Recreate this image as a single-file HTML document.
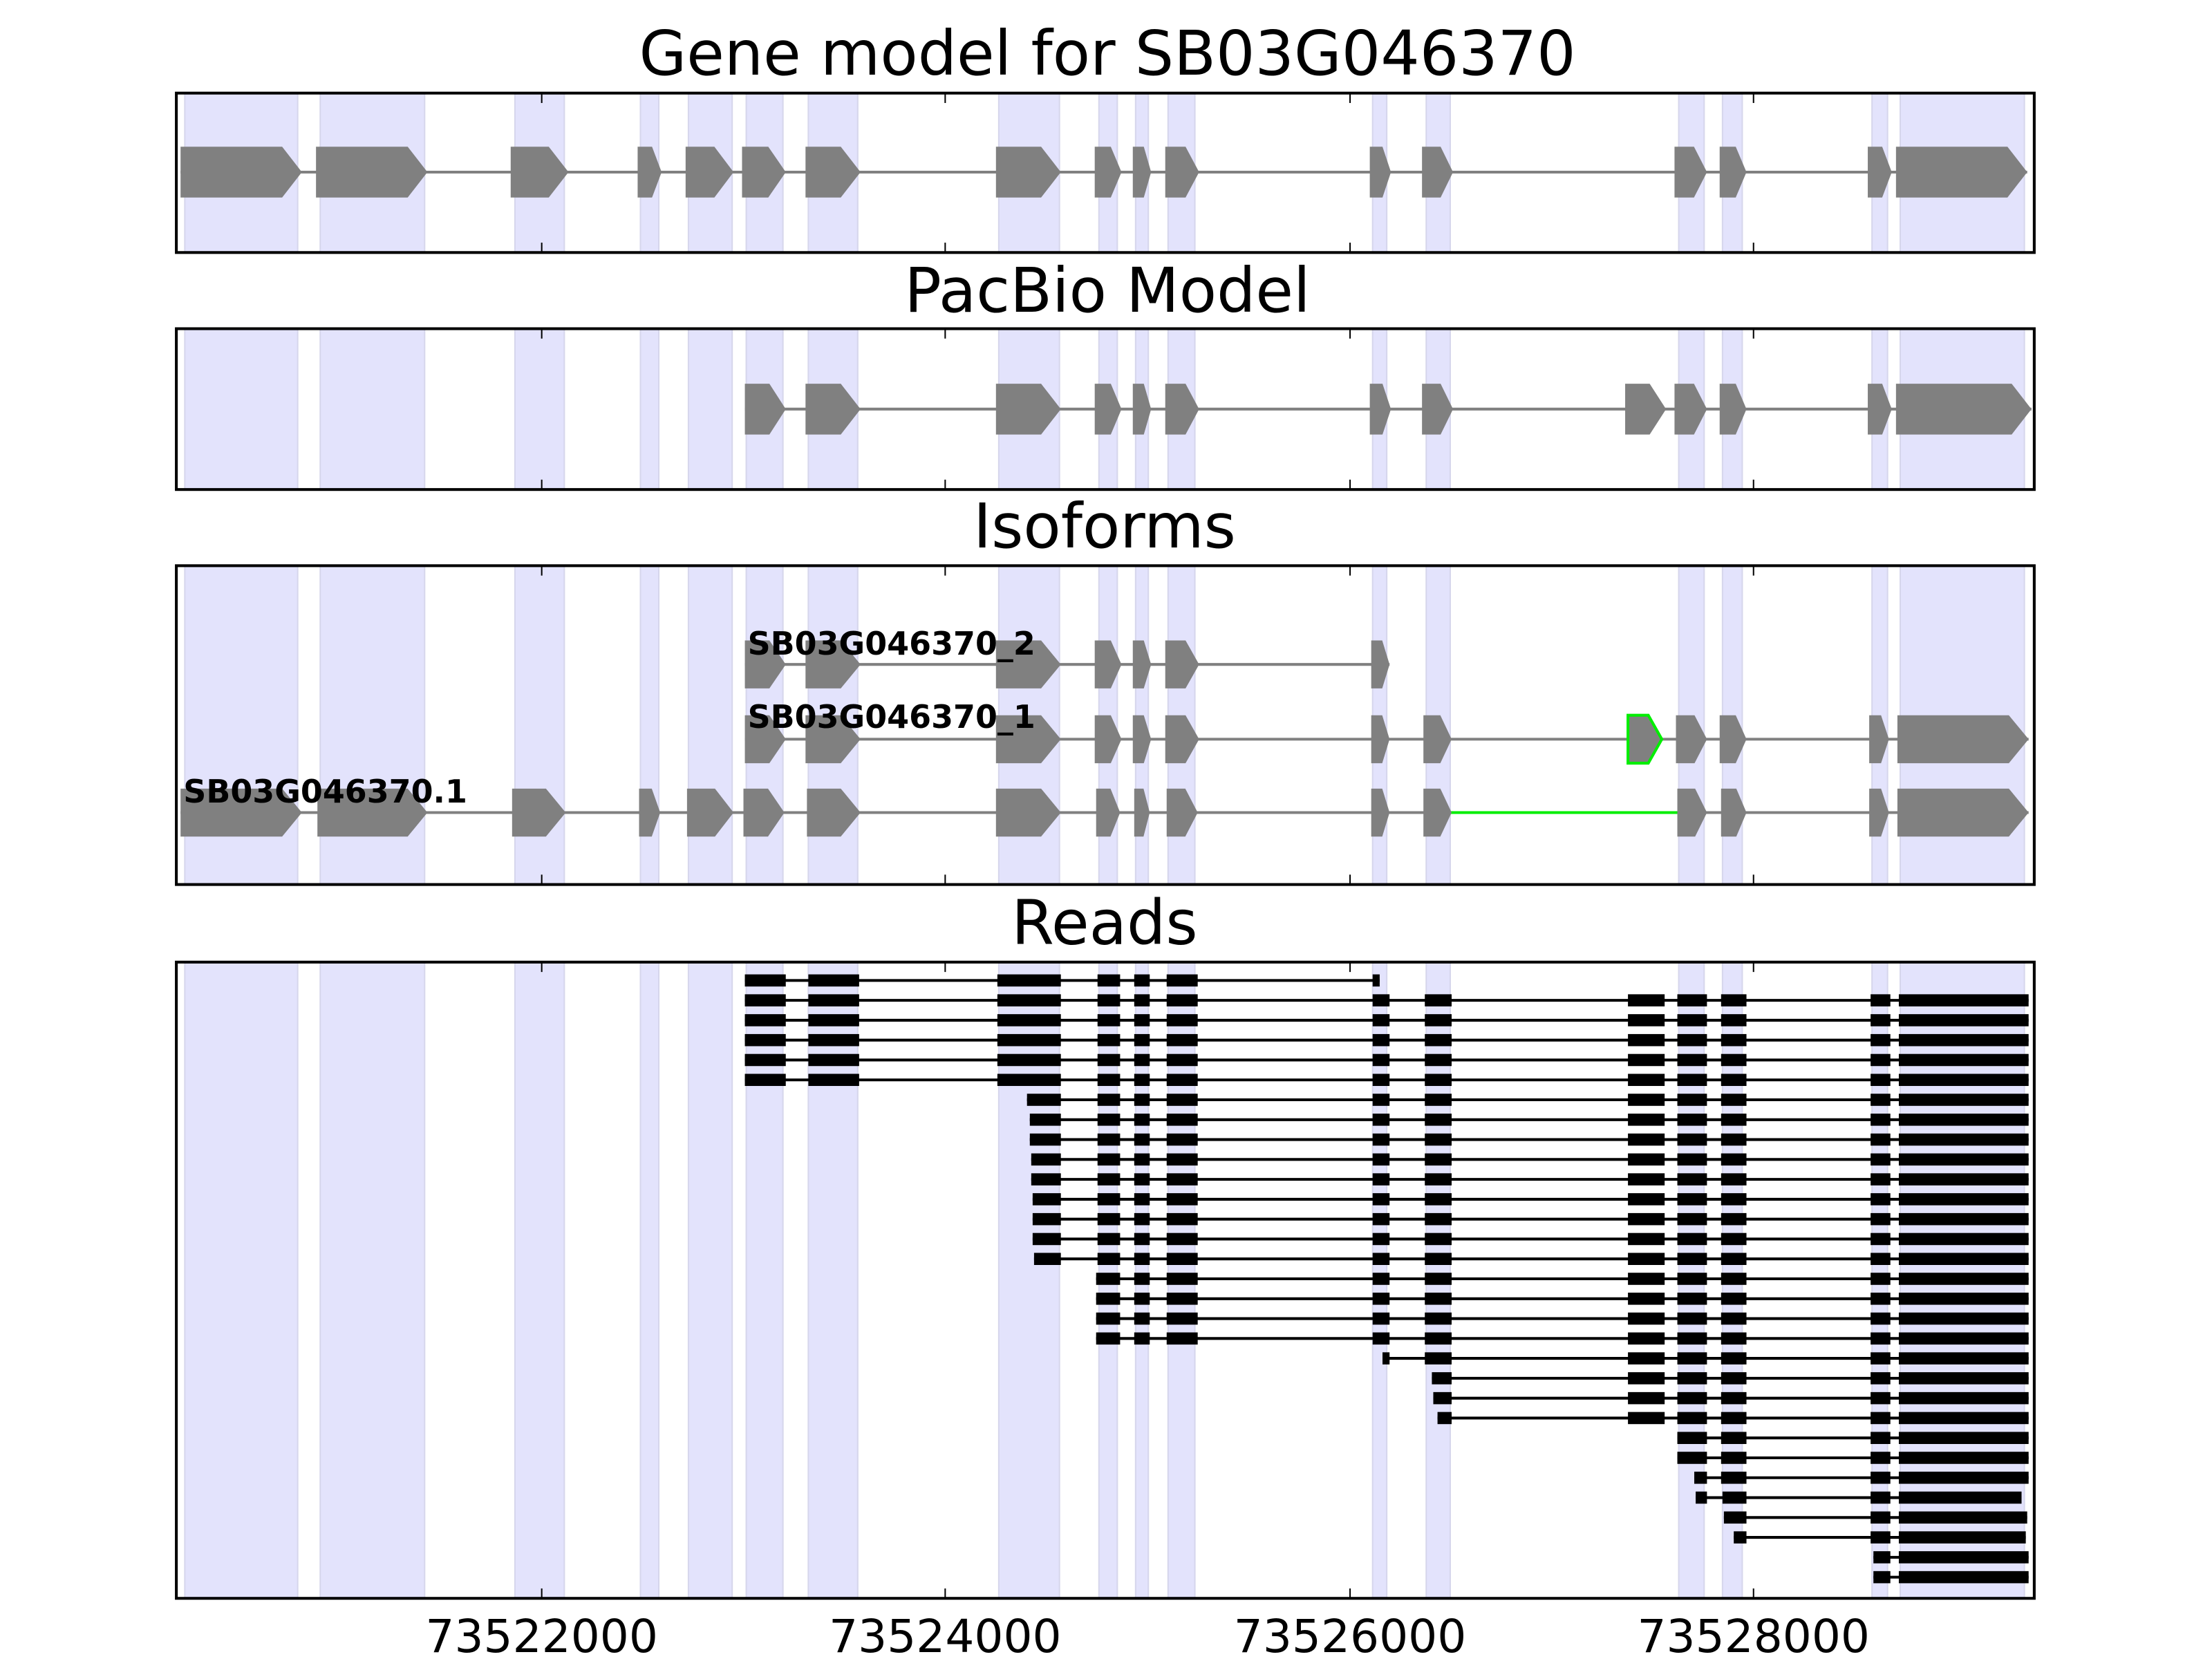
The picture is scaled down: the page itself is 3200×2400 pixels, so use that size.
<!DOCTYPE html>
<html><head><meta charset="utf-8"><style>
html,body{margin:0;padding:0;background:#fff;}
svg{display:block;}
text{font-family:"DejaVu Sans","Liberation Sans",sans-serif;}
</style></head><body>
<svg id="s" xmlns="http://www.w3.org/2000/svg" width="3200" height="2400" viewBox="0 0 1568 1176">
<rect x="0" y="0" width="1568" height="1176" fill="#fff"/>
<g id="g"></g>
<text x="785" y="53" font-size="43.5" text-anchor="middle">Gene model for SB03G046370</text>
<text x="785" y="221" font-size="43.5" text-anchor="middle">PacBio Model</text>
<text x="783" y="388" font-size="43.5" text-anchor="middle">Isoforms</text>
<text x="783" y="669" font-size="43.5" text-anchor="middle">Reads</text>
<text x="384" y="1171" font-size="32.4" text-anchor="middle">73522000</text>
<text x="670" y="1171" font-size="32.4" text-anchor="middle">73524000</text>
<text x="957" y="1171" font-size="32.4" text-anchor="middle">73526000</text>
<text x="1243" y="1171" font-size="32.4" text-anchor="middle">73528000</text>
<text x="530" y="464" font-size="22.5" font-weight="bold">SB03G046370_2</text>
<text x="530" y="516" font-size="22.5" font-weight="bold">SB03G046370_1</text>
<text x="130" y="569" font-size="22.5" font-weight="bold">SB03G046370.1</text>
</svg>
<script>
var g=document.getElementById('g');var h='';
var L=125,R=1442;
var panels=[[66,179],[233,347],[401,627],[682,1133]];
var shade=[[131,211],[227,301],[365,400],[454,467],[488,519],[529,555],[573,608],[708,751],[779,792],[805,814],[828,847],[973,983],[1011,1028],[1190,1208],[1221,1235],[1327,1338],[1347,1435]];
panels.forEach(function(p){
 shade.forEach(function(s){h+='<rect x="'+s[0]+'" y="'+p[0]+'" width="'+(s[1]-s[0])+'" height="'+(p[1]-p[0])+'" fill="#e3e3fc" stroke="#d6d6ec" stroke-width="1"/>';});
});
function arrow(a,b,y,hh,fill,stroke){var w=b-a;var hd=Math.min(14,w*0.4);
 return '<polygon points="'+a+','+(y-hh)+' '+(b-hd)+','+(y-hh)+' '+b+','+y+' '+(b-hd)+','+(y+hh)+' '+a+','+(y+hh)+'" fill="'+fill+'"'+(stroke?' stroke="'+stroke+'" stroke-width="2"':'')+'/>';}
function model(ex,y,hh,extra){var s='<line x1="'+ex[0][0]+'" x2="'+ex[ex.length-1][1]+'" y1="'+y+'" y2="'+y+'" stroke="#808080" stroke-width="2"/>';
 if(extra)s+=extra;
 ex.forEach(function(e){s+=arrow(e[0],e[1],y,hh,'#808080',e[2]);});return s;}
var gm=[[128,214],[224,303],[362,403],[452,469],[486,520],[526,557],[571,610],[706,752],[776,795],[803,816],[826,850],[971,986],[1008,1030],[1187,1210],[1219,1238],[1324,1341],[1344,1437]];
h+=model(gm,122,18);
var pb=[[528,557],[571,610],[706,752],[776,795],[803,816],[826,850],[971,986],[1008,1030],[1152,1181],[1187,1210],[1219,1238],[1324,1341],[1344,1440]];
h+=model(pb,290,18);
var i2=[[528,557],[571,610],[706,752],[776,795],[803,816],[826,850],[972,985]];
h+=model(i2,471,17);
var i1=[[528,557],[571,610],[706,752],[776,795],[803,816],[826,850],[972,985],[1009,1029],[1154,1178,'#00ee00'],[1188,1210],[1219,1238],[1325,1339],[1345,1438]];
h+=model(i1,524,17);
var i0=[[128,214],[225,303],[363,401],[453,468],[487,520],[527,556],[572,610],[706,752],[777,794],[804,815],[827,849],[972,985],[1009,1029],[1189,1210],[1220,1238],[1325,1339],[1345,1438]];
h+=model(i0,576,17,'<line x1="1028" x2="1190" y1="576" y2="576" stroke="#00ee00" stroke-width="2"/>');
var tail=[[973,985],[1010,1029],[1154,1180],[1189,1210],[1220,1238],[1326,1340],[1346,1438]];
var mid=[[778,794],[804,815],[827,849]];
var head=[[528,557],[573,609],[707,752]];
var rows=[];
rows.push(head.concat(mid).concat([[973,978]]));
for(var i=0;i<5;i++)rows.push(head.concat(mid).concat(tail));
[728,730,730,731,731,732,732,732,733].forEach(function(s){rows.push([[s,752]].concat(mid).concat(tail));});
for(var i=0;i<4;i++)rows.push([[777,794]].concat(mid.slice(1)).concat(tail));
rows.push([[980,985]].concat(tail.slice(1)));
[1015,1016,1019].forEach(function(s){rows.push([[s,1029]].concat(tail.slice(2)));});
var t2=[[1220,1238],[1326,1340],[1346,1438]];
rows.push([[1189,1210]].concat(t2));rows.push([[1189,1210]].concat(t2));
rows.push([[1201,1210]].concat(t2));
rows.push([[1202,1210],[1221,1238],[1326,1340],[1346,1433]]);
rows.push([[1222,1238],[1326,1340],[1346,1437]]);
rows.push([[1229,1238],[1326,1340],[1346,1436]]);
rows.push([[1328,1340],[1346,1438]]);rows.push([[1328,1340],[1346,1438]]);
rows.forEach(function(r,k){var y=695+k*14.1;
 h+='<line x1="'+r[0][0]+'" x2="'+r[r.length-1][1]+'" y1="'+y+'" y2="'+y+'" stroke="#000" stroke-width="2"/>';
 r.forEach(function(e){h+='<rect x="'+e[0]+'" y="'+(y-4.3)+'" width="'+(e[1]-e[0])+'" height="8.6" fill="#000"/>';});
});
var ticks=[384,670,957,1243];
panels.forEach(function(p){
 ticks.forEach(function(t){h+='<line x1="'+t+'" x2="'+t+'" y1="'+p[0]+'" y2="'+(p[0]+7)+'" stroke="#000" stroke-width="1"/><line x1="'+t+'" x2="'+t+'" y1="'+p[1]+'" y2="'+(p[1]-7)+'" stroke="#000" stroke-width="1"/>';});
 h+='<rect x="'+L+'" y="'+p[0]+'" width="'+(R-L)+'" height="'+(p[1]-p[0])+'" fill="none" stroke="#000" stroke-width="2"/>';
});
g.innerHTML=h;
</script>
</body></html>
